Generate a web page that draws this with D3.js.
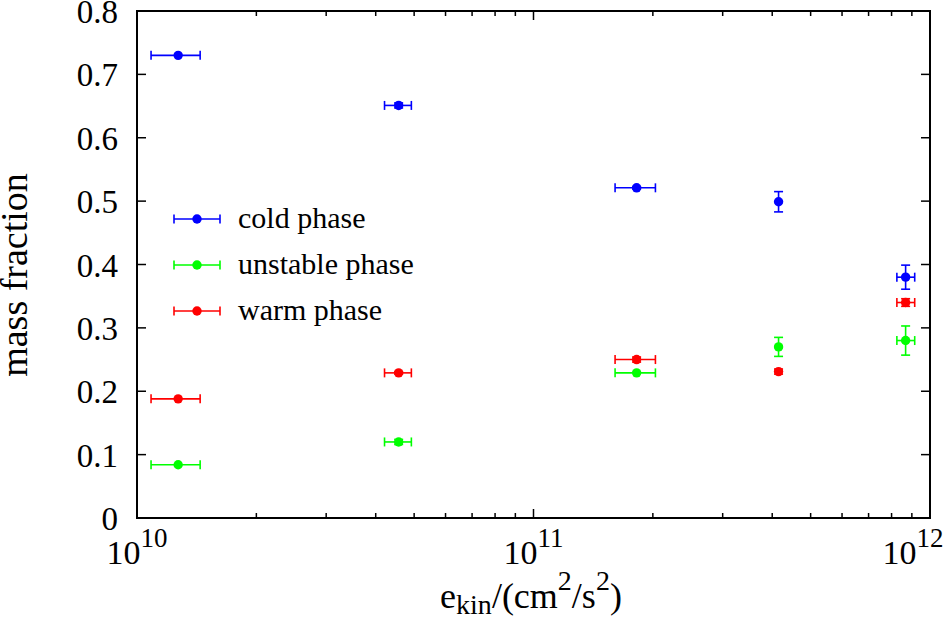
<!DOCTYPE html>
<html><head><meta charset="utf-8">
<script src="https://cdn.jsdelivr.net/npm/d3@7"></script>
<style>body{margin:0;background:#fff}svg{display:block}text{font-family:"Liberation Serif","Times New Roman",serif;fill:#000}</style>
</head><body><svg id="c" width="946" height="618"></svg>
<script>
// energies (cm^2/s^2) and their horizontal error ranges
const xVals  = [1.27e10, 4.57e10, 1.82e11, 4.15e11, 8.68e11];
const xLow   = [1.085e10, 4.21e10, 1.606e11, 4.15e11, 8.25e11];
const xHigh  = [1.443e10, 4.92e10, 2.03e11, 4.15e11, 9.15e11];
const seriesNames = ["cold phase", "unstable phase", "warm phase"];
const seriesColors = ["#0000ff", "#00ff00", "#ff0000"];
const coldY    = [0.73, 0.651, 0.521, 0.499, 0.38];
const coldErr  = [0.0, 0.004, 0.002, 0.016, 0.019];
const unstY    = [0.084, 0.12, 0.229, 0.27, 0.28];
const unstErr  = [0.0, 0.004, 0.0, 0.015, 0.023];
const warmY    = [0.188, 0.229, 0.25, 0.231, 0.34];
const warmErr  = [0.0, 0.002, 0.004, 0.004, 0.006];
const yTicks = [0, 0.1, 0.2, 0.3, 0.4, 0.5, 0.6, 0.7, 0.8];
const yTickLabels = ["0","0.1","0.2","0.3","0.4","0.5","0.6","0.7","0.8"];
const xMajor = [1e10, 1e11, 1e12];
const xMajorExp = ["10","11","12"];

const svg = d3.select("#c");
const L = 137, R = 930, T = 11, B = 518;
const x = d3.scaleLog().domain([1e10, 1e12]).range([L, R]);
const y = d3.scaleLinear().domain([0, 0.8]).range([B, T]);

const series = [
  {name: seriesNames[0], color: seriesColors[0], ys: coldY, e: coldErr},
  {name: seriesNames[1], color: seriesColors[1], ys: unstY, e: unstErr},
  {name: seriesNames[2], color: seriesColors[2], ys: warmY, e: warmErr}
];

// minor ticks
const minor = [];
for (let d = 1e10; d < 1e12; d *= 10) for (let k = 2; k <= 9; k++) minor.push(d * k);
const tk = svg.append("g").attr("stroke", "#000").attr("stroke-width", 1.5);
minor.forEach(v => {
  tk.append("line").attr("x1", x(v)).attr("x2", x(v)).attr("y1", B).attr("y2", B - 5);
  tk.append("line").attr("x1", x(v)).attr("x2", x(v)).attr("y1", T).attr("y2", T + 5);
});
xMajor.forEach(v => {
  tk.append("line").attr("x1", x(v)).attr("x2", x(v)).attr("y1", B).attr("y2", B - 9);
  tk.append("line").attr("x1", x(v)).attr("x2", x(v)).attr("y1", T).attr("y2", T + 9);
});
yTicks.forEach(v => {
  tk.append("line").attr("x1", L).attr("x2", L + 9).attr("y1", y(v)).attr("y2", y(v));
  tk.append("line").attr("x1", R).attr("x2", R - 9).attr("y1", y(v)).attr("y2", y(v));
});
svg.append("rect").attr("x", L).attr("y", T).attr("width", R - L).attr("height", B - T)
  .attr("fill", "none").attr("stroke", "#000").attr("stroke-width", 2);

// y tick labels
yTicks.forEach((v, i) => {
  svg.append("text").attr("x", 118).attr("y", y(v) + 12).attr("text-anchor", "end")
    .attr("font-size", 33).text(yTickLabels[i]);
});
// x tick labels
xMajor.forEach((v, i) => {
  const cx = Math.min(x(v), 913);
  const t = svg.append("text").attr("x", cx).attr("y", 564).attr("text-anchor", "middle").attr("font-size", 34);
  t.append("tspan").text("10");
  t.append("tspan").attr("dy", -17).attr("font-size", 27).text(xMajorExp[i]);
});
// axis titles
const xl = svg.append("text").attr("x", 531).attr("y", 608).attr("text-anchor", "middle").attr("font-size", 36);
xl.append("tspan").text("e");
xl.append("tspan").attr("dy", 6).attr("font-size", 28).text("kin");
xl.append("tspan").attr("dy", -6).text("/(cm");
xl.append("tspan").attr("dy", -18).attr("font-size", 28).text("2");
xl.append("tspan").attr("dy", 18).text("/s");
xl.append("tspan").attr("dy", -18).attr("font-size", 28).text("2");
xl.append("tspan").attr("dy", 18).text(")");
svg.append("text").attr("transform", "translate(27,275) rotate(-90)").attr("text-anchor", "middle")
  .attr("font-size", 38).text("mass fraction");

// data
const cap = 4.5, lw = 1.6, r = 4.7;
series.forEach(s => {
  const g = svg.append("g").attr("stroke", s.color).attr("stroke-width", lw);
  xVals.forEach((xv, i) => {
    const cx = x(xv), cy = y(s.ys[i]);
    const x1 = x(xLow[i]), x2 = x(xHigh[i]);
    if (x2 - x1 > 1) {
      g.append("line").attr("x1", x1).attr("x2", x2).attr("y1", cy).attr("y2", cy);
      g.append("line").attr("x1", x1).attr("x2", x1).attr("y1", cy - cap).attr("y2", cy + cap);
      g.append("line").attr("x1", x2).attr("x2", x2).attr("y1", cy - cap).attr("y2", cy + cap);
    }
    if (s.e[i] > 0) {
      const y1 = y(s.ys[i] - s.e[i]), y2 = y(s.ys[i] + s.e[i]);
      g.append("line").attr("x1", cx).attr("x2", cx).attr("y1", y1).attr("y2", y2);
      g.append("line").attr("x1", cx - cap).attr("x2", cx + cap).attr("y1", y1).attr("y2", y1);
      g.append("line").attr("x1", cx - cap).attr("x2", cx + cap).attr("y1", y2).attr("y2", y2);
    }
    svg.append("circle").attr("cx", cx).attr("cy", cy).attr("r", r).attr("fill", s.color);
  });
});

// legend
const legY = [219, 265, 311];
series.forEach((s, i) => {
  const g = svg.append("g").attr("stroke", s.color).attr("stroke-width", lw);
  g.append("line").attr("x1", 174).attr("x2", 220).attr("y1", legY[i]).attr("y2", legY[i]);
  g.append("line").attr("x1", 174).attr("x2", 174).attr("y1", legY[i] - cap).attr("y2", legY[i] + cap);
  g.append("line").attr("x1", 220).attr("x2", 220).attr("y1", legY[i] - cap).attr("y2", legY[i] + cap);
  svg.append("circle").attr("cx", 197).attr("cy", legY[i]).attr("r", r).attr("fill", s.color);
  svg.append("text").attr("x", 238).attr("y", legY[i] + 9).attr("font-size", 30).text(s.name);
});
</script></body></html>
